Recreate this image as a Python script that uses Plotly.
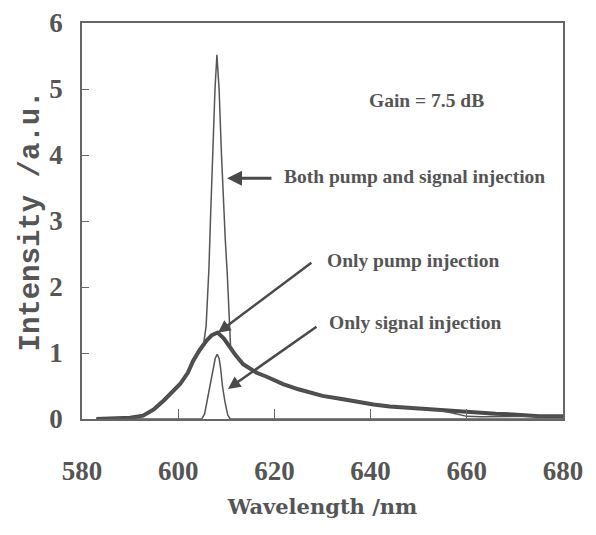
import plotly.graph_objects as go

# ---- data ----
pump_x = [583, 585, 587, 590, 592.7, 595, 597, 598.5, 600.4, 602, 603.1, 604.5, 605.9,
          607, 608.2, 609.5, 610.8, 612, 613.5, 616.3, 618.4, 621.8, 625, 627.4, 630,
          634.3, 637, 640.6, 644, 648.2, 651, 654.4, 657, 660, 663, 666, 669.6, 672, 675, 680]
pump_y = [0, 0.005, 0.01, 0.02, 0.05, 0.15, 0.28, 0.4, 0.53, 0.7, 0.88, 1.05, 1.19,
          1.27, 1.31, 1.22, 1.08, 0.96, 0.83, 0.70, 0.64, 0.53, 0.45, 0.40, 0.35,
          0.30, 0.26, 0.22, 0.19, 0.17, 0.15, 0.13, 0.115, 0.10, 0.09, 0.08, 0.07, 0.05, 0.04, 0.04]

both_x = [583, 585, 587, 590, 592.7, 595, 597, 598.5, 600.4, 602, 603.1, 604.5, 605.3,
          605.8, 606.4, 606.7, 607.1, 607.65, 608.05, 608.5, 609.0, 609.5, 609.8, 610.2,
          610.6, 610.9, 612, 613.5, 616.3, 618.4, 621.8, 625, 627.4, 630, 634.3, 637, 640.6,
          644, 648.2, 651, 654.4, 657, 660, 663, 666, 669.6, 672, 675, 680]
both_y = [0, 0.005, 0.01, 0.02, 0.05, 0.15, 0.28, 0.4, 0.53, 0.7, 0.88, 1.05, 1.15,
          1.4, 2.3, 3.0, 4.0, 5.0, 5.52, 5.0, 4.0, 3.0, 2.7, 2.2,
          1.5, 1.08, 0.96, 0.83, 0.70, 0.64, 0.53, 0.45, 0.40, 0.35, 0.30, 0.26, 0.22,
          0.19, 0.17, 0.15, 0.13, 0.09, 0.04, 0.035, 0.035, 0.04, 0.04, 0.04, 0.04]

signal_x = [583, 604.9, 605.5, 606.0, 606.7, 607.3, 607.7, 608.1, 608.5, 608.8, 609.2,
            609.7, 610.3, 610.8, 680]
signal_y = [0, 0, 0.08, 0.27, 0.5, 0.78, 0.92, 0.98, 0.92, 0.78, 0.5, 0.27, 0.06, 0, 0]

x_ticks = [580, 600, 620, 640, 660, 680]
y_ticks = [0, 1, 2, 3, 4, 5, 6]

gain_text = "Gain = 7.5 dB"
label_both = "Both pump and signal injection"
label_pump = "Only pump injection"
label_signal = "Only signal injection"

INK = "#555555"
SERIF = "Liberation Serif"

fig = go.Figure()
fig.add_trace(go.Scatter(x=pump_x, y=pump_y, mode="lines",
                         line=dict(color="#4a4a4a", width=4), showlegend=False))
fig.add_trace(go.Scatter(x=both_x, y=both_y, mode="lines",
                         line=dict(color=INK, width=1.5), showlegend=False))
fig.add_trace(go.Scatter(x=signal_x, y=signal_y, mode="lines",
                         line=dict(color=INK, width=1.5), showlegend=False))

txt_font = dict(family=SERIF, size=19.5, color=INK, weight="bold")

fig.add_annotation(x=651.7, y=4.83, text=gain_text, showarrow=False,
                   font=txt_font, xanchor="center", yanchor="middle")
fig.add_annotation(x=621.6, y=3.68, text=label_both, showarrow=False,
                   font=txt_font, xanchor="left", yanchor="middle")
fig.add_annotation(x=630.5, y=2.40, text=label_pump, showarrow=False,
                   font=txt_font, xanchor="left", yanchor="middle")
fig.add_annotation(x=630.9, y=1.46, text=label_signal, showarrow=False,
                   font=txt_font, xanchor="left", yanchor="middle")

arrow_style = dict(showarrow=True, text="", axref="x", ayref="y",
                   arrowcolor="#4a4a4a", arrowhead=2, arrowsize=1.0)
fig.add_annotation(x=610.15, y=3.646, ax=619.7, ay=3.646, arrowwidth=3, **arrow_style)
fig.add_annotation(x=608.27, y=1.306, ax=628.0, ay=2.385, arrowwidth=2.5, **arrow_style)
fig.add_annotation(x=610.35, y=0.456, ax=629.06, ay=1.413, arrowwidth=2.5, **arrow_style)

# page body has an 8px default margin, so the figure is sized to fit inside it
fig.update_layout(
    width=588, height=527,
    margin=dict(l=74, r=33, t=15, b=116),
    paper_bgcolor="white", plot_bgcolor="white",
    xaxis=dict(range=[580, 680], tickvals=x_ticks, ticktext=[str(v) for v in x_ticks],
               ticks="inside", ticklen=10, tickwidth=1.2, tickcolor="#666",
               showline=True, linewidth=1.8, linecolor="#666", mirror=True,
               showgrid=False, zeroline=False, automargin=False,
               tickfont=dict(family=SERIF, size=27, color=INK, weight="bold"),
               ticklabelstandoff=27,
               title=dict(text="Wavelength /nm", standoff=14,
                          font=dict(family="DejaVu Serif", size=21, color=INK, weight="bold"))),
    yaxis=dict(range=[0, 6], tickvals=y_ticks, ticktext=[str(v) for v in y_ticks],
               ticks="inside", ticklen=7, tickwidth=1.2, tickcolor="#666",
               showline=True, linewidth=1.8, linecolor="#666", mirror=True,
               showgrid=False, zeroline=False, automargin=False,
               tickfont=dict(family=SERIF, size=27, color=INK, weight="bold"),
               ticklabelstandoff=12,
               title=dict(text="Intensity /a.u.", standoff=1,
                          font=dict(family="Liberation Mono", size=29, color=INK, weight="bold"))),
)

fig.write_html("out.html")
